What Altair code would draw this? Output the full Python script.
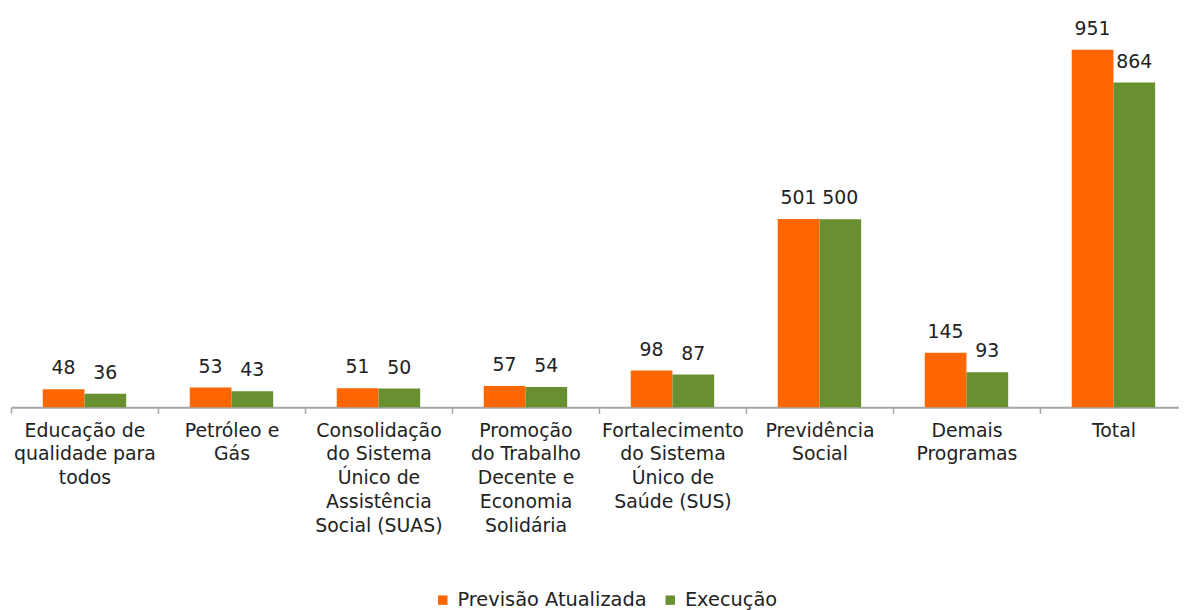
import altair as alt
import pandas as pd

categories = [
    "Educação de|qualidade para|todos",
    "Petróleo e|Gás",
    "Consolidação|do Sistema|Único de|Assistência|Social (SUAS)",
    "Promoção|do Trabalho|Decente e|Economia|Solidária",
    "Fortalecimento|do Sistema|Único de|Saúde (SUS)",
    "Previdência|Social",
    "Demais|Programas",
    "Total",
]
series = ["Previsão Atualizada", "Execução"]
previsao = [48, 53, 51, 57, 98, 501, 145, 951]
execucao = [36, 43, 50, 54, 87, 500, 93, 864]
colors = ["#FF6600", "#688F30"]

rows = []
for c, p, e in zip(categories, previsao, execucao):
    rows.append({"categoria": c, "serie": series[0], "valor": p})
    rows.append({"categoria": c, "serie": series[1], "valor": e})
df = pd.DataFrame(rows)

FONT = "DejaVu Sans"

base = alt.Chart(df).encode(
    x=alt.X(
        "categoria:N",
        sort=categories,
        scale=alt.Scale(paddingInner=0, paddingOuter=0, range=[0, 1184]),
        axis=alt.Axis(
            title=None,
            labelExpr="split(datum.label, '|')",
            labelAngle=0,
            labelFontSize=19,
            labelLineHeight=24,
            labelColor="#222222",
            labelFont=FONT,
            labelPadding=8,
            labelBaseline="top",
            labelLimit=300,
            tickBand="extent",
            tickSize=6,
            tickColor="#a6a6a6",
            tickWidth=1.5,
            domainColor="#a6a6a6",
            domainWidth=2,
            grid=False,
        ),
    ),
    xOffset=alt.XOffset(
        "serie:N", sort=series, scale=alt.Scale(paddingInner=0, paddingOuter=0.762)
    ),
    y=alt.Y("valor:Q", scale=alt.Scale(domain=[0, 1025], nice=False), axis=None),
)

bars = base.mark_bar().encode(
    color=alt.Color(
        "serie:N",
        scale=alt.Scale(domain=series, range=colors),
        legend=alt.Legend(
            title=None,
            orient="none",
            legendX=425,
            legendY=572,
            direction="horizontal",
            symbolType="square",
            symbolSize=90,
            symbolStrokeWidth=0,
            labelFontSize=19.5,
            labelFont=FONT,
            labelColor="#222222",
            labelOffset=5,
            labelLimit=400,
            columnPadding=14,
        ),
    )
)

labels = base.mark_text(
    dy=-15, baseline="alphabetic", fontSize=19, font=FONT, color="#222222"
).encode(text=alt.Text("valor:Q"))

chart = (
    alt.layer(bars, labels)
    .properties(
        width=1176,
        height=388,
        autosize=alt.AutoSizeParams(type="none"),
        padding={"left": 3, "top": 12, "right": 0, "bottom": 202},
        background="white",
    )
    .configure(font=FONT)
    .configure_view(strokeWidth=0, strokeOpacity=0)
)

chart.save("out.html", embed_options={"renderer": "svg", "actions": False})
